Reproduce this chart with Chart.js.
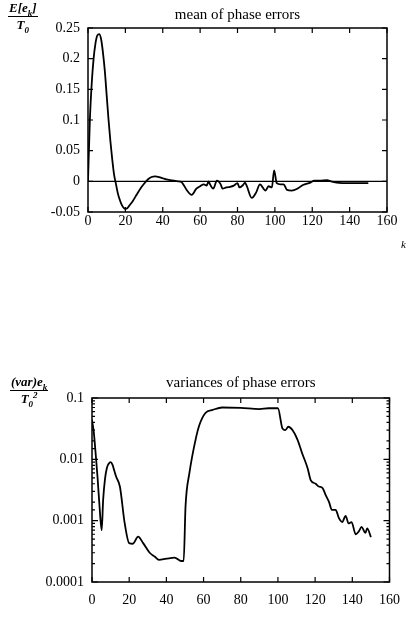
<!DOCTYPE html>
<html>
<head>
<meta charset="utf-8">
<script src="https://cdn.jsdelivr.net/npm/chart.js@4.4.0/dist/chart.umd.min.js"></script>
<style>
  body { margin: 0; background: #fff; width: 410px; height: 632px; position: relative; overflow: hidden; }
  .box { position: absolute; left: 0; width: 410px; }
  .frac { position: absolute; font-family: "Liberation Serif", serif; font-style: italic; font-weight: bold; font-size: 13px; text-align: center; line-height: 11px; }
  .frac .num { border-bottom: 1.5px solid #000; padding: 0 1px 3px; }
  .frac .den { padding-top: 2px; }
  .frac sub, .frac sup { font-size: 9px; line-height: 0; }
  .klabel { position: absolute; left: 401px; top: 238px; font-family: "Liberation Serif", serif; font-style: italic; font-size: 11px; }
</style>
</head>
<body>
<div class="box" style="top:0;height:250px"><canvas id="meanChart"></canvas></div>
<div class="box" style="top:360px;height:272px"><canvas id="varChart"></canvas></div>
<div class="frac" style="left:8px;top:2px"><div class="num">E[e<sub>k</sub>]</div><div class="den">T<sub>0</sub></div></div>
<div class="frac" style="left:10px;top:376px"><div class="num">(var)e<sub>k</sub></div><div class="den">T<sub>0</sub><sup>2</sup></div></div>
<div class="klabel">k</div>
<script>
// mean of phase errors
const meanK = [0, 1, 2, 3, 4, 5, 6, 7, 8, 9, 10, 11, 12, 13, 14, 15, 16, 17, 18, 19, 20, 21, 22, 24, 26, 28, 30, 32, 34, 36, 38, 40, 42, 44, 46, 48, 50,
  51, 53, 55.5, 58, 60, 62, 63.5, 64.5, 65, 67, 69, 71, 72, 74, 76, 78, 80, 81, 83, 84, 85, 87.6, 90, 92, 95, 96.6, 98.4, 99.6, 101, 103, 104.7, 106.5,
  109, 112, 115, 119, 121, 124, 128, 130, 133, 140, 145, 150];
const meanVals = [0, 0.1, 0.16, 0.2, 0.225, 0.238, 0.24, 0.232, 0.21, 0.18, 0.14, 0.1, 0.065, 0.035, 0.01, -0.005, -0.02, -0.03, -0.038, -0.043, -0.045, -0.044, -0.04, -0.032, -0.022, -0.012, -0.004, 0.003, 0.007, 0.008, 0.007, 0.005, 0.003, 0.002, 0.001, 0, -0.001,
  -0.005, -0.015, -0.022, -0.012, -0.008, -0.005, -0.007, 0, -0.003, -0.012, 0.001, -0.005, -0.012, -0.01, -0.009, -0.007, -0.003, -0.01, -0.006, -0.002, -0.008, -0.027, -0.018, -0.005, -0.015, -0.008, -0.01, 0.018, -0.003, -0.005, -0.005, -0.014,
  -0.015, -0.012, -0.006, -0.002, 0.001, 0.001, 0.002, 0, -0.002, -0.003, -0.003, -0.003];
const zeroK = [0, 160];
const zeroVals = [0, 0];

// variances of phase errors
const varK = [0, 1, 2, 3, 4, 5.2, 6, 7, 8, 9, 10, 11, 12, 13, 15, 17.6, 20, 22, 24.8, 27.5, 31, 33.7, 36, 40, 44.4, 48, 49.3,
  50.3, 52.4, 56, 57.7, 61, 65, 70, 80, 90, 95, 100, 102.4, 104, 105.6, 107.8, 110.5, 113, 116, 117.6, 120.3, 122, 124,
  125.7, 127.5, 129, 131, 132.8, 134.6, 136.4, 138, 139.6, 141.8, 143.5, 145, 147, 148, 150];
const varVals = [0.044, 0.027, 0.012, 0.005, 0.0018, 0.0007, 0.0022, 0.0048, 0.0072, 0.0085, 0.009, 0.0082, 0.0065, 0.0052, 0.0036, 0.0009, 0.00043, 0.00042, 0.00055, 0.00043, 0.0003, 0.00026, 0.00023, 0.00024, 0.00025, 0.00022, 0.00022,
  0.0017, 0.006, 0.023, 0.036, 0.057, 0.064, 0.07, 0.069, 0.066, 0.068, 0.068, 0.032, 0.03, 0.034, 0.03, 0.021, 0.0126, 0.0071, 0.0046, 0.004, 0.0036, 0.0034,
  0.0026, 0.002, 0.0015, 0.0015, 0.0011, 0.00095, 0.0012, 0.0009, 0.00095, 0.0006, 0.00067, 0.00079, 0.00063, 0.00075, 0.00054];

const xTicks = [0, 20, 40, 60, 80, 100, 120, 140, 160];
const varTickLabels = ['0.0001', '0.001', '0.01', '0.1'];

const fontFamily = '"Liberation Serif", "DejaVu Serif", serif';

function pts(xs, ys) {
  return xs.map((x, i) => ({ x: x, y: ys[i] }));
}

// frame with inward tick marks on all four sides
const frameTicks = {
  id: 'frameTicks',
  afterDatasetsDraw(chart) {
    const { ctx, chartArea: a, scales } = chart;
    ctx.save();
    ctx.strokeStyle = '#000';
    ctx.lineWidth = 1.5;
    ctx.strokeRect(a.left, a.top, a.right - a.left, a.bottom - a.top);
    ctx.lineWidth = 1.2;
    ctx.beginPath();
    scales.x.ticks.forEach(t => {
      const px = scales.x.getPixelForValue(t.value);
      ctx.moveTo(px, a.bottom); ctx.lineTo(px, a.bottom - 5);
      ctx.moveTo(px, a.top); ctx.lineTo(px, a.top + 5);
    });
    const isLog = scales.y.type === 'logarithmic';
    scales.y.ticks.forEach(t => {
      const py = scales.y.getPixelForValue(t.value);
      let len = 5;
      if (isLog) {
        const e = Math.log10(t.value);
        len = Math.abs(e - Math.round(e)) < 1e-6 ? 6 : 3;
      }
      ctx.moveTo(a.left, py); ctx.lineTo(a.left + len, py);
      ctx.moveTo(a.right, py); ctx.lineTo(a.right - len, py);
    });
    ctx.stroke();
    ctx.restore();
  }
};

function baseOptions(titleText, titlePad, rightPad, leftWidth, bottomHeight, xPad) {
  return {
    responsive: true,
    maintainAspectRatio: false,
    animation: false,
    layout: { padding: { left: 0, right: rightPad, top: 0, bottom: 0 } },
    plugins: {
      legend: { display: false },
      tooltip: { enabled: false },
      title: {
        display: true,
        text: titleText,
        fullSize: false,
        color: '#000',
        font: { family: fontFamily, size: 15, weight: 'normal', lineHeight: 1.2 },
        padding: titlePad
      }
    },
    scales: {
      x: {
        type: 'linear',
        min: 0,
        max: 160,
        afterBuildTicks: s => { s.ticks = xTicks.map(v => ({ value: v })); },
        afterFit: s => { s.height = bottomHeight; },
        grid: { display: false, drawTicks: false },
        border: { display: false },
        ticks: { color: '#000', padding: xPad, font: { family: fontFamily, size: 14 } }
      },
      y: {
        afterFit: s => { s.width = leftWidth; },
        grid: { display: false, drawTicks: false },
        border: { display: false },
        ticks: { color: '#000', padding: 8, font: { family: fontFamily, size: 14 } }
      }
    },
    elements: { point: { radius: 0 }, line: { borderWidth: 1.8, borderColor: '#000', cubicInterpolationMode: 'monotone' } }
  };
}

const meanOpts = baseOptions('mean of phase errors', { top: 6, bottom: 4 }, 23, 88, 38, 1);
meanOpts.scales.y.min = -0.05;
meanOpts.scales.y.max = 0.25;
meanOpts.scales.y.ticks.stepSize = 0.05;
meanOpts.scales.y.ticks.callback = v => String(Number(v.toFixed(2)));

new Chart(document.getElementById('meanChart'), {
  type: 'line',
  data: {
    datasets: [
      { data: pts(meanK, meanVals), borderColor: '#000', fill: false },
      { data: pts(zeroK, zeroVals), borderColor: '#000', borderWidth: 1.4, fill: false }
    ]
  },
  options: meanOpts,
  plugins: [frameTicks]
});

const varOpts = baseOptions('variances of phase errors', { top: 14, bottom: 6 }, 19, 92, 50, 10);
varOpts.scales.y.type = 'logarithmic';
varOpts.scales.y.min = 0.0001;
varOpts.scales.y.max = 0.1;
varOpts.scales.y.ticks.autoSkip = false;
varOpts.scales.y.ticks.callback = function (value) {
  const e = Math.log10(value);
  if (Math.abs(e - Math.round(e)) < 1e-6) return varTickLabels[Math.round(e) + 4];
  return '';
};

new Chart(document.getElementById('varChart'), {
  type: 'line',
  data: {
    datasets: [
      { data: pts(varK, varVals), borderColor: '#000', fill: false }
    ]
  },
  options: varOpts,
  plugins: [frameTicks]
});
</script>
</body>
</html>
